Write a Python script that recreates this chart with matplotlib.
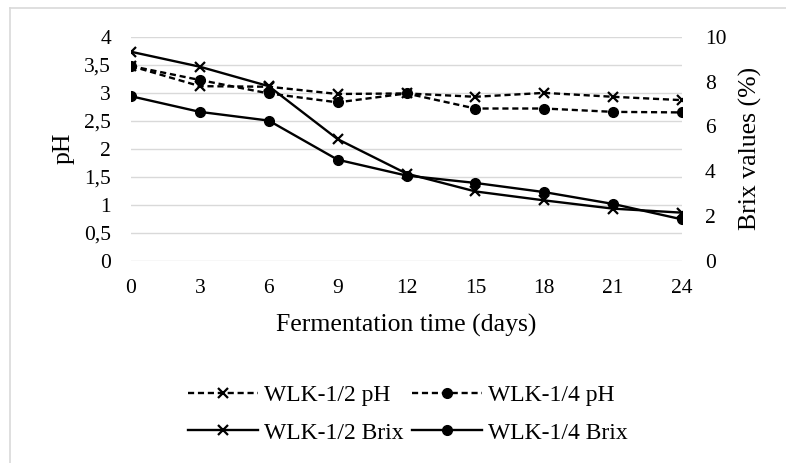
import matplotlib
matplotlib.use("Agg")
import matplotlib.pyplot as plt
from matplotlib.lines import Line2D
from matplotlib.ticker import FuncFormatter

plt.rcParams['font.family'] = ['Liberation Serif', 'DejaVu Serif']

days = [0, 3, 6, 9, 12, 15, 18, 21, 24]
ph_half = [3.48, 3.12, 3.11, 2.98, 2.99, 2.93, 3.0, 2.93, 2.87]
ph_quarter = [3.48, 3.23, 2.99, 2.83, 2.99, 2.72, 2.72, 2.66, 2.65]
brix_half = [9.34, 8.67, 7.8, 5.43, 3.89, 3.09, 2.69, 2.32, 2.14]
brix_quarter = [7.35, 6.65, 6.26, 4.51, 3.8, 3.47, 3.06, 2.53, 1.84]

left_ticks = [0, 0.5, 1, 1.5, 2, 2.5, 3, 3.5, 4]
right_ticks = [0, 2, 4, 6, 8, 10]

fig = plt.figure(figsize=(7.86, 4.63), dpi=100)
# outer frame (left and top edges visible)
fig.add_artist(Line2D([10/786, 10/786], [0, 1 - 8/463], color='#d9d9d9', lw=1.2))
fig.add_artist(Line2D([10/786, 1], [1 - 8/463, 1 - 8/463], color='#d9d9d9', lw=1.2))

ax = fig.add_axes([131/786, 1 - 260.5/463, (682 - 131)/786, (260.5 - 37)/463])
ax2 = ax.twinx()

lw = 1.7
dash = (0, (2.6, 1.6))
l1, = ax.plot(days, ph_half, color='black', lw=lw, ls=dash, marker='x', ms=7, mew=1.6, label='WLK-1/2 pH', zorder=3)
l2, = ax.plot(days, ph_quarter, color='black', lw=lw, ls=dash, marker='o', ms=7, label='WLK-1/4 pH', zorder=3)
l3, = ax2.plot(days, brix_half, color='black', lw=lw, marker='x', ms=7, mew=1.6, label='WLK-1/2 Brix')
l4, = ax2.plot(days, brix_quarter, color='black', lw=lw, marker='o', ms=7, label='WLK-1/4 Brix')

ax.set_xlim(0, 24)
ax.set_ylim(0, 4)
ax2.set_ylim(0, 10)
ax.set_xticks(days)
ax.set_yticks(left_ticks)
ax2.set_yticks(right_ticks)
ax.yaxis.set_major_formatter(FuncFormatter(lambda v, p: ('%g' % v).replace('.', ',')))
ax.grid(axis='y', color='#d9d9d9', lw=1.0)
ax.set_axisbelow(True)
for a in (ax, ax2):
    for s in a.spines.values():
        s.set_visible(False)
    a.tick_params(length=0, labelsize=15.5)
ax.tick_params(axis='y', pad=14.4)
ax2.tick_params(axis='y', pad=16.5)
ax.tick_params(axis='x', pad=13)

ax.set_xlabel('Fermentation time (days)', fontsize=18.5, labelpad=12)
ax.set_ylabel('pH', fontsize=18.5, labelpad=7)
ax2.set_ylabel('Brix values (%)', fontsize=18.5, labelpad=9)

fig.legend(handles=[l1, l3, l2, l4], loc='center', bbox_to_anchor=(408/786, 1 - 414/463),
           ncol=2, frameon=False, fontsize=17, handlelength=2.97, handletextpad=0.25,
           columnspacing=0.35, labelspacing=0.69, numpoints=1, borderpad=0)

fig.savefig('out.png', dpi=100)
